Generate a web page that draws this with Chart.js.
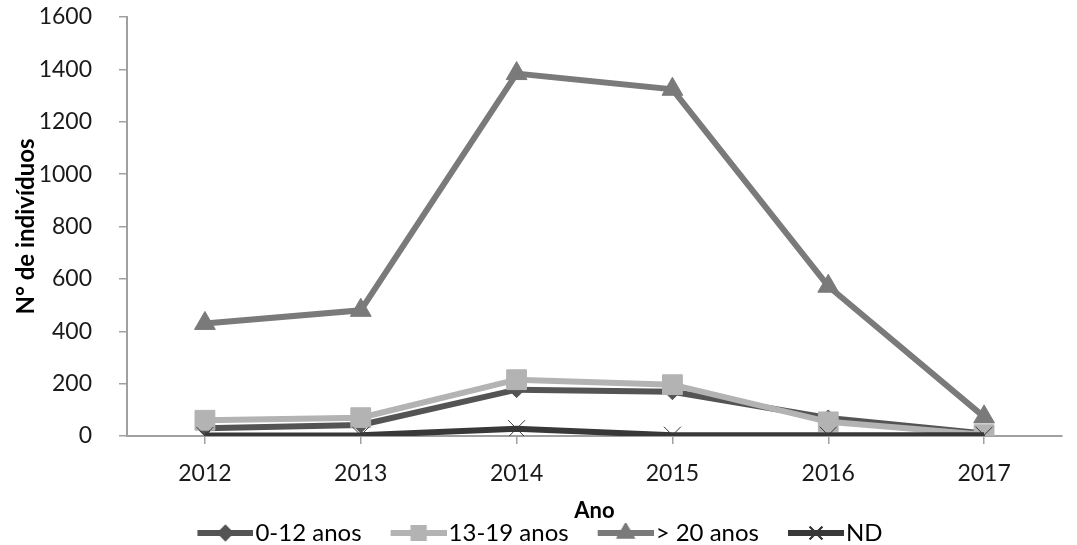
<!DOCTYPE html>
<html>
<head>
<meta charset="utf-8">
<script src="https://cdn.jsdelivr.net/npm/chart.js@4"></script>
<style>
  html, body { margin: 0; padding: 0; background: #fff; }
  #wrap { width: 1077px; height: 545px; }
</style>
</head>
<body>
<div id="wrap"><canvas id="myChart" width="1077" height="545"></canvas></div>
<script>
//Chart data
const years = ['2012', '2013', '2014', '2015', '2016', '2017'];
const ages0to12 = [30, 42, 177, 169, 69, 10];
const ages13to19 = [60, 70, 215, 196, 54, 5];
const agesOver20 = [430, 480, 1384, 1324, 572, 73];
const notDefined = [2, 3, 28, 3, 3, 3];
const yTicks = [0, 200, 400, 600, 800, 1000, 1200, 1400, 1600];

const FONT = 'Lato';
const LEGEND_FONT = 24;
const BOX_W = 73;

//Canvas used as legend symbol: transparent space on the left, then a line with the marker (Excel style)
function legendSymbol(color, style, radius) {
  const c = document.createElement('canvas');
  c.width = BOX_W + 20;
  c.height = 20;
  const g = c.getContext('2d');
  const start = c.width - 56;
  g.strokeStyle = color;
  g.fillStyle = color;
  g.lineWidth = 6;
  g.beginPath();
  g.moveTo(start, 10);
  g.lineTo(c.width, 10);
  g.stroke();
  g.lineWidth = 2;
  Chart.helpers.drawPoint(g, {pointStyle: style, radius: radius, rotation: 0, borderWidth: 2}, start + 28, 10);
  if (style !== 'crossRot') g.fill();
  g.stroke();
  return c;
}

function makeSet(label, data, color, style, radius, legendRadius) {
  return {
    label: label,
    data: data,
    borderColor: color,
    backgroundColor: color,
    borderWidth: 6,
    pointStyle: style,
    pointRadius: radius,
    pointBorderWidth: 1,
    pointBackgroundColor: color,
    pointBorderColor: color,
    tension: 0,
    legendSymbol: legendSymbol(color, style, legendRadius)
  };
}

//Moves the legend so its visible part sits where it is in the picture
const legendShift = {
  id: 'legendShift',
  afterLayout(chart) {
    const lg = chart.legend;
    lg.left -= 18;
    lg.right -= 18;
    lg.top += 10;
    lg.bottom += 10;
  }
};

const ctx = document.getElementById('myChart').getContext('2d');
new Chart(ctx, {
  type: 'line',
  data: {
    labels: years,
    datasets: [
      makeSet('ND', notDefined, '#383838', 'crossRot', 12, 9),
      makeSet('13-19 anos', ages13to19, '#b3b3b3', 'rect', 14, 10),
      makeSet('0-12 anos', ages0to12, '#545454', 'rectRot', 8, 7),
      makeSet('> 20 anos', agesOver20, '#7a7a7a', 'triangle', 12, 9)
    ]
  },
  plugins: [legendShift],
  options: {
    responsive: false,
    animation: false,
    layout: {padding: {top: 17, right: 0, left: 12, bottom: 0}},
    scales: {
      x: {
        offset: true,
        afterFit: axis => { axis.height = 73; },
        border: {color: '#a0a0a0', width: 2},
        grid: {display: true, drawOnChartArea: false, drawTicks: true, tickLength: 8, color: '#a0a0a0', lineWidth: 1.5},
        ticks: {color: '#1a1a1a', font: {family: FONT, size: 23}, padding: 16},
        title: {display: true, text: 'Ano', color: '#000', font: {family: FONT, size: 22, weight: 'bold', lineHeight: 1}, padding: {top: 0, bottom: -13}}
      },
      y: {
        min: 0,
        max: 1600,
        afterBuildTicks: axis => { axis.ticks = yTicks.map(v => ({value: v})); },
        afterFit: axis => {
          axis.width = 115;
          axis.paddingTop = 0;
          axis.paddingBottom = 0;
        },
        border: {color: '#a0a0a0', width: 2},
        grid: {display: true, drawOnChartArea: false, drawTicks: true, tickLength: 8, color: '#a0a0a0', lineWidth: 1.5},
        ticks: {color: '#1a1a1a', font: {family: FONT, size: 23}, padding: 27, callback: v => String(v)},
        title: {display: true, text: 'N° de indivíduos', color: '#000', font: {family: FONT, size: 24, weight: 'bold'}, padding: {top: 0, bottom: 0}}
      }
    },
    plugins: {
      tooltip: {enabled: false},
      legend: {
        display: true,
        position: 'bottom',
        labels: {
          color: '#000',
          font: {family: FONT, size: LEGEND_FONT, lineHeight: 1},
          usePointStyle: true,
          pointStyleWidth: BOX_W,
          boxHeight: 20,
          padding: 2,
          generateLabels: chart => {
            //Legend order as in the picture
            const order = ['0-12 anos', '13-19 anos', '> 20 anos', 'ND'];
            return order.map(name => {
              const i = chart.data.datasets.findIndex(d => d.label === name);
              const d = chart.data.datasets[i];
              return {
                text: name,
                datasetIndex: i,
                pointStyle: d.legendSymbol,
                fillStyle: d.borderColor,
                strokeStyle: d.borderColor,
                lineWidth: 0,
                fontColor: '#000',
                hidden: false
              };
            });
          }
        }
      }
    }
  }
});
</script>
</body>
</html>
